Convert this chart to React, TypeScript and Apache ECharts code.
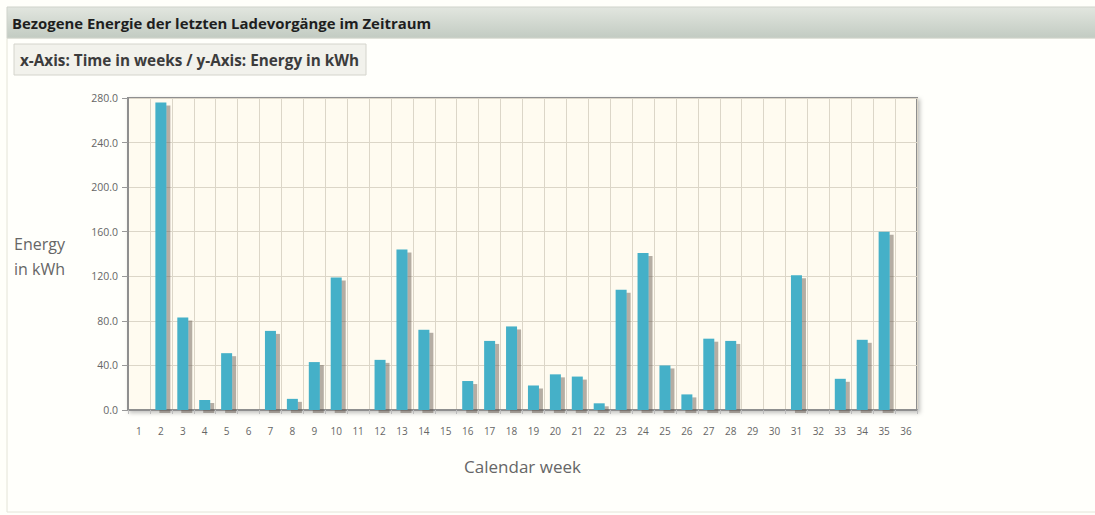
import React, { useEffect, useRef } from "react";
import * as echarts from "echarts";

const weeks: string[] = Array.from({ length: 36 }, (_, i) => String(i + 1));
const energy: number[] = [
  0, 276, 83, 9, 51, 0, 71, 10, 43, 119, 0, 45, 144, 72, 0, 26, 62, 75,
  22, 32, 30, 6, 108, 141, 40, 14, 64, 62, 0, 0, 121, 0, 28, 63, 160, 0,
];
const yTicks = { min: 0, max: 280, interval: 40 };
const headerTitle = "Bezogene Energie der letzten Ladevorgänge im Zeitraum";
const subTitle = "x-Axis: Time in weeks / y-Axis: Energy in kWh";
const yName = ["Energy", "in kWh"];
const xName = "Calendar week";

export default function App() {
  const ref = useRef<HTMLDivElement>(null);
  useEffect(() => {
    if (!ref.current) return;
    const chart = echarts.init(ref.current, null, { renderer: "svg" });
    chart.setOption({
      animation: false,
      backgroundColor: "#fffffa",
      graphic: [
        {
          type: "rect",
          shape: { x: 7, y: 38, width: 1100, height: 474 },
          style: { fill: "#fffffb", stroke: "#e4e4d8", lineWidth: 1 },
          z: -10,
        },
        {
          type: "rect",
          shape: { x: 7, y: 7, width: 1100, height: 31 },
          style: {
            fill: new echarts.graphic.LinearGradient(0, 0, 0, 1, [
              { offset: 0, color: "#e2e6df" },
              { offset: 1, color: "#c2cbc2" },
            ]),
            stroke: "#cfd3cb",
            lineWidth: 1,
          },
          z: -5,
        },
        {
          type: "text",
          x: 12,
          y: 23,
          style: {
            text: headerTitle,
            fill: "#1e1e1e",
            font: "bold 14.9px 'Open Sans'",
            textVerticalAlign: "middle",
          },
        },
        {
          type: "rect",
          shape: { x: 14, y: 44, width: 352, height: 31 },
          style: { fill: "#f2f2ec", stroke: "#d4d4cc", lineWidth: 1 },
          z: -5,
        },
        {
          type: "text",
          x: 20,
          y: 60,
          style: {
            text: subTitle,
            fill: "#3c3c3c",
            font: "bold 15.3px 'Open Sans'",
            textVerticalAlign: "middle",
          },
        },
        {
          type: "text",
          x: 14,
          y: 244,
          style: {
            text: yName[0],
            fill: "#666",
            font: "16px 'Open Sans'",
            textVerticalAlign: "middle",
          },
        },
        {
          type: "text",
          x: 14,
          y: 269,
          style: {
            text: yName[1],
            fill: "#666",
            font: "16px 'Open Sans'",
            textVerticalAlign: "middle",
          },
        },
      ],
      grid: {
        left: 128,
        right: 178,
        top: 98,
        bottom: 105,
        show: true,
        backgroundColor: "#fffbf0",
        borderColor: "#8f8f8f",
        borderWidth: 2,
        shadowColor: "rgba(0,0,0,0.25)",
        shadowBlur: 4,
        shadowOffsetX: 2,
        shadowOffsetY: 2,
      },
      xAxis: {
        type: "category",
        data: weeks,
        name: xName,
        nameLocation: "middle",
        nameGap: 48,
        nameTextStyle: { color: "#666", fontSize: 17, fontFamily: "Open Sans" },
        axisLine: { lineStyle: { color: "#8f8f8f", width: 2 } },
        axisTick: { show: true, length: 4, lineStyle: { color: "#bbb" } },
        axisLabel: { color: "#666", fontSize: 10, fontFamily: "Open Sans", margin: 16 },
        splitLine: { show: true, lineStyle: { color: "#dcd6c8", width: 1 } },
      },
      yAxis: {
        type: "value",
        min: yTicks.min,
        max: yTicks.max,
        interval: yTicks.interval,
        axisLine: { show: true, lineStyle: { color: "#8f8f8f", width: 2 } },
        axisTick: { show: true, length: 6, lineStyle: { color: "#999" } },
        axisLabel: {
          color: "#666",
          fontSize: 10.5,
          fontFamily: "Open Sans",
          margin: 10,
          formatter: (v: number) => v.toFixed(1),
        },
        splitLine: { show: true, lineStyle: { color: "#dcd6c8", width: 1 } },
      },
      series: [
        {
          type: "bar",
          data: energy,
          barWidth: 11,
          itemStyle: {
            color: "#45b0c8",
            shadowColor: "rgba(90,80,70,0.45)",
            shadowBlur: 1,
            shadowOffsetX: 4,
            shadowOffsetY: 3,
          },
        },
      ],
    });
    return () => chart.dispose();
  }, []);
  return (
    <div
      ref={ref}
      style={{ position: "absolute", left: 0, top: 0, width: 1095, height: 515 }}
    />
  );
}
